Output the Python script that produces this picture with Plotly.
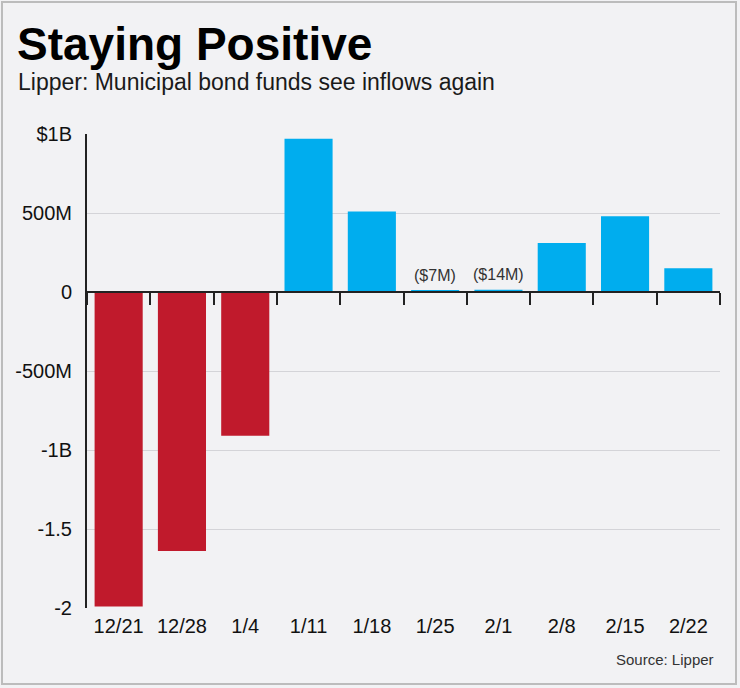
import plotly.graph_objects as go

# weekly municipal bond fund flows, millions of dollars
weeks = ['12/21', '12/28', '1/4', '1/11', '1/18', '1/25', '2/1', '2/8', '2/15', '2/22']
flows = [-1990, -1640, -910, 970, 510, 7, 14, 310, 480, 150]
small_labels = ['', '', '', '', '', '($7M)', '($14M)', '', '', '']

y_ticks = [1000, 500, 0, -500, -1000, -1500, -2000]
y_tick_text = ['$1B', '500M', '0', '-500M', '-1B', '-1.5', '-2']
y_min, y_max = -2000, 1000

RED = '#c01a2c'
BLUE = '#00adee'
BG = '#f2f2f4'

W, H = 740, 688
ML, MR, MT, MB = 87, 20, 134, 80


def px_x(p):
    # page pixel -> paper x
    return (p - ML) / (W - ML - MR)


def px_y(p):
    # page pixel -> paper y
    return (H - MB - p) / (H - MT - MB)


colors = [RED if v < 0 else BLUE for v in flows]

fig = go.Figure()
fig.add_trace(go.Bar(x=weeks, y=flows, marker_color=colors, marker_line_width=0,
                     hoverinfo='x+y'))
# invisible trace to carry the zero-line axis with boundary ticks
fig.add_trace(go.Scatter(x=weeks, y=[0] * len(weeks), xaxis='x2', mode='markers',
                         marker_opacity=0, hoverinfo='skip', showlegend=False))

zero_pos = (0 - y_min) / (y_max - y_min)

fig.update_layout(
    width=W, height=H,
    margin=dict(l=ML, r=MR, t=MT, b=MB),
    paper_bgcolor=BG, plot_bgcolor=BG,
    showlegend=False,
    bargap=0.24,
    font=dict(family='Liberation Sans, Arial, sans-serif', color='#111'),
    xaxis=dict(type='category', range=[-0.5, len(weeks) - 0.5], showgrid=False,
               showline=False, ticks='', tickfont=dict(size=20),
               ticklabelstandoff=4),
    xaxis2=dict(type='category', overlaying='x', anchor='free', position=zero_pos,
                range=[-0.5, len(weeks) - 0.5], showgrid=False, showline=True,
                linecolor='#222', linewidth=2, ticks='outside', tickson='boundaries',
                ticklen=12, tickwidth=2, tickcolor='#222', showticklabels=False),
    yaxis=dict(range=[y_min, y_max], tickvals=y_ticks, ticktext=y_tick_text,
               showline=True, linecolor='#222', linewidth=2, ticks='',
               showgrid=True, gridcolor='#d4d4d8', gridwidth=1, zeroline=False,
               tickfont=dict(size=20), ticklabelstandoff=9),
)

fig.add_annotation(text='<b>Staying Positive</b>', xref='paper', yref='paper',
                   x=px_x(15), y=px_y(44), xanchor='left', yanchor='middle',
                   showarrow=False,
                   font=dict(family='Liberation Sans, Arial, sans-serif',
                             size=46, color='#000'))
fig.add_annotation(text='Lipper: Municipal bond funds see inflows again', xref='paper',
                   yref='paper', x=px_x(16), y=px_y(82), xanchor='left',
                   yanchor='middle', showarrow=False, font=dict(size=23, color='#1a1a1a'))
fig.add_annotation(text='Source: Lipper', xref='paper', yref='paper', x=px_x(716),
                   y=px_y(659), xanchor='right', yanchor='middle', showarrow=False,
                   font=dict(size=15, color='#333'))

for wk, v, lab in zip(weeks, flows, small_labels):
    if lab:
        fig.add_annotation(text=lab, x=wk, y=v, yanchor='bottom', yshift=5,
                           showarrow=False, font=dict(size=16, color='#333'))

# outer frame
fig.add_shape(type='rect', xref='paper', yref='paper', x0=px_x(2), x1=px_x(736),
              y0=px_y(684), y1=px_y(2), line=dict(color='#bcbcbc', width=2))

# drop the browser's default body margin so the figure fills the window
fig.write_html('out.html', config={'displayModeBar': False},
               post_script="document.body.style.margin = '0';")
